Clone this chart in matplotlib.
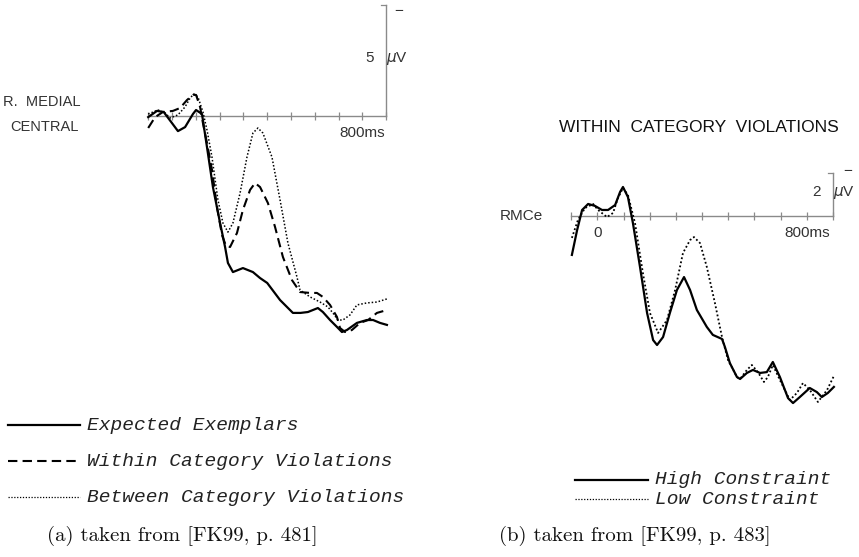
import numpy as np
import matplotlib
matplotlib.use('Agg')
import matplotlib.pyplot as plt
from matplotlib.lines import Line2D

# ---- data (ms, microvolts; negative plotted up) ----
# (a) R. medial central
t_exp = [-100, -63, -35, 0, 25, 55, 88, 101, 126, 147, 172, 202, 223, 235, 256, 298, 340, 370,
         400, 454, 508, 540, 571, 613, 634, 664, 693, 714, 735, 777, 819, 845, 874, 903]
v_exp = [0.05, -0.23, -0.18, 0.32, 0.68, 0.5, -0.09, -0.27, -0.09, 1.40, 3.2, 4.82, 5.9, 6.62,
         7.03, 6.85, 7.03, 7.3, 7.52, 8.29, 8.87, 8.87, 8.83, 8.65, 8.83, 9.19, 9.5, 9.73, 9.64,
         9.32, 9.19, 9.19, 9.32, 9.41]

t_within = [-100, -71, -38, 4, 34, 63, 88, 101, 118, 130, 147, 168, 189, 210, 227, 244, 273, 298,
            328, 349, 370, 403, 433, 466, 504, 538, 580, 609, 634, 664, 693, 706, 727, 756, 790,
            824, 861, 903]
v_within = [0.54, 0.05, -0.18, -0.23, -0.36, -0.72, -0.95, -0.95, -0.41, 0.32, 1.22, 2.43, 4.1,
            5.36, 5.86, 5.9, 5.27, 4.23, 3.33, 3.02, 3.2, 3.92, 5.0, 6.35, 7.39, 7.93, 7.97, 7.97,
            8.15, 8.51, 9.05, 9.55, 9.73, 9.64, 9.32, 9.19, 8.87, 8.74]

t_between = [-100, -59, -29, -8, 25, 55, 76, 92, 109, 130, 147, 168, 193, 214, 235, 256, 286, 315,
             340, 361, 382, 420, 454, 487, 525, 538, 580, 622, 655, 676, 697, 718, 748, 777, 819,
             861, 903]
v_between = [-0.09, -0.27, -0.14, 0.09, -0.05, -0.41, -0.81, -0.99, -0.86, -0.18, 0.63, 1.85, 3.78,
             4.82, 5.23, 4.82, 3.47, 1.85, 0.77, 0.54, 0.77, 1.85, 3.78, 5.72, 7.25, 7.84, 8.15,
             8.38, 8.6, 8.87, 9.19, 9.19, 8.96, 8.51, 8.42, 8.38, 8.24]

# (b) RMCe, within category violations
t_high = [-97, -77, -58, -35, -9, 18, 41, 68, 87, 98, 117, 136, 163, 190, 213, 228, 251, 277, 304,
          331, 354, 380, 418, 441, 476, 487, 506, 533, 545, 571, 594, 621, 647, 670, 697, 728, 747,
          773, 811, 838, 857, 880, 903]
v_high = [1.81, 0.65, -0.28, -0.56, -0.47, -0.28, -0.28, -0.51, -1.12, -1.35, -0.88, 0.33, 2.37,
          4.51, 5.77, 6.0, 5.63, 4.51, 3.44, 2.84, 3.44, 4.37, 5.16, 5.53, 5.72, 6.09, 6.84, 7.49,
          7.58, 7.3, 7.16, 7.3, 7.26, 6.79, 7.49, 8.47, 8.7, 8.42, 8.0, 8.19, 8.42, 8.23, 7.95]

t_low = [-97, -74, -47, -16, 3, 37, 60, 79, 98, 117, 144, 174, 201, 232, 266, 297, 327, 354, 369,
         392, 418, 449, 476, 499, 533, 545, 571, 590, 613, 636, 651, 670, 697, 735, 762, 785, 811,
         842, 877, 903]
v_low = [1.02, 0.19, -0.37, -0.56, -0.28, 0.05, -0.14, -0.84, -1.3, -0.98, 0.33, 2.65, 4.51, 5.44,
         4.84, 3.44, 1.72, 1.12, 0.98, 1.26, 2.37, 4.05, 5.63, 6.7, 7.49, 7.58, 7.16, 6.93, 7.26,
         7.72, 7.49, 6.93, 7.63, 8.56, 8.23, 7.77, 8.09, 8.65, 8.09, 7.44]

labels_a = ['Expected Exemplars', 'Within Category Violations', 'Between Category Violations']
labels_b = ['High Constraint', 'Low Constraint']

W, H = 859, 557
fig = plt.figure(figsize=(W / 100, H / 100), dpi=100)

grey = '#8a8a8a'
txtc = '#333333'
sans = 'Liberation Sans'
leg_font = dict(family='Liberation Mono', style='italic', size=14, color='#222222')
cap_font = dict(family='cmr10', size=15, color='#111111')

dotted = (0, (1, 1.3))
dashed = (0, (4.5, 2.5))


def px_axes(x0, y0, x1, y1):
    # axes placed by pixel box (top-left origin)
    return fig.add_axes([x0 / W, 1 - y1 / H, (x1 - x0) / W, (y1 - y0) / H])


def erp_frame(ax, bar_uv, tick_h):
    ax.plot([-100, 900], [0, 0], color=grey, lw=1.0)
    ticks = np.arange(-100, 901, 100)
    ax.vlines(ticks, -tick_h, tick_h, color=grey, lw=0.9)
    ax.plot([900, 900], [0, -bar_uv], color=grey, lw=1.0)
    ax.plot([880, 900], [-bar_uv, -bar_uv], color=grey, lw=0.9)
    ax.axis('off')


# left panel: 0 ms at x=172px, 23.8 px/100 ms; 22.2 px/uV, baseline y=116px
ax1 = px_axes(140, 0, 400, 345)
ax1.set_xlim((140 - 172) / 0.238, (400 - 172) / 0.238)
ax1.set_ylim((345 - 116) / 22.2, (0 - 116) / 22.2)
erp_frame(ax1, 5, 0.18)
ax1.plot(t_exp, v_exp, color='black', lw=1.6, solid_joinstyle='round')
ax1.plot(t_within, v_within, color='black', lw=1.5, linestyle=dashed)
ax1.plot(t_between, v_between, color='black', lw=1.1, linestyle=dotted)
ax1.text(800, 0.45, '800ms', ha='center', va='top', fontsize=11, family=sans, color=txtc)
ax1.text(900, -2.6, '5   $\\mu$V', ha='center', va='center', fontsize=11, family=sans, color=txtc)
ax1.text(935, -4.75, '−', ha='left', va='center', fontsize=11, family=sans, color=txtc)

# right panel: 0 ms at x=597px, 26.2 px/100 ms; 21.5 px/uV, baseline y=216px
ax2 = px_axes(560, 160, 860, 420)
ax2.set_xlim((560 - 597.3) / 0.262, (860 - 597.3) / 0.262)
ax2.set_ylim((420 - 216) / 21.5, (160 - 216) / 21.5)
erp_frame(ax2, 2, 0.19)
ax2.plot(t_high, v_high, color='black', lw=1.6, solid_joinstyle='round')
ax2.plot(t_low, v_low, color='black', lw=1.3, linestyle=dotted)
ax2.text(0, 0.45, '0', ha='center', va='top', fontsize=11, family=sans, color=txtc)
ax2.text(800, 0.45, '800ms', ha='center', va='top', fontsize=11, family=sans, color=txtc)
ax2.text(900, -1.1, '2   $\\mu$V', ha='center', va='center', fontsize=11, family=sans, color=txtc)
ax2.text(940, -2.1, '−', ha='left', va='center', fontsize=11, family=sans, color=txtc)

# text and legend samples on a full-figure overlay in pixel units
ov = fig.add_axes([0, 0, 1, 1])
ov.set_xlim(0, W)
ov.set_ylim(H, 0)
ov.axis('off')

ov.text(42, 102, 'R.  MEDIAL', ha='center', va='center', fontsize=10.5, family=sans, color=txtc)
ov.text(44, 127, 'CENTRAL', ha='center', va='center', fontsize=10.5, family=sans, color=txtc)
ov.text(699, 128, 'WITHIN  CATEGORY  VIOLATIONS', ha='center', va='center', fontsize=12.5,
        family=sans, color='#111111')
ov.text(521, 216, 'RMCe', ha='center', va='center', fontsize=11, family=sans, color=txtc)

styles_a = [dict(lw=1.6, linestyle='-'), dict(lw=1.5, linestyle=dashed), dict(lw=0.9, linestyle=dotted)]
for i, (lab, st) in enumerate(zip(labels_a, styles_a)):
    y = 425 + i * 36
    ov.add_line(Line2D([8, 80], [y, y], color='black', **st))
    ov.text(87, y, lab, ha='left', va='center', **leg_font)

styles_b = [dict(lw=1.6, linestyle='-'), dict(lw=0.9, linestyle=dotted)]
for i, (lab, st) in enumerate(zip(labels_b, styles_b)):
    y = 480 + i * 19
    ov.add_line(Line2D([575, 648], [y, y], color='black', **st))
    ov.text(655, y, lab, ha='left', va='center', **leg_font)

ov.text(182, 536, '(a) taken from [FK99, p. 481]', ha='center', va='center', **cap_font)
ov.text(635, 536, '(b) taken from [FK99, p. 483]', ha='center', va='center', **cap_font)

fig.savefig('out.png', dpi=100)
